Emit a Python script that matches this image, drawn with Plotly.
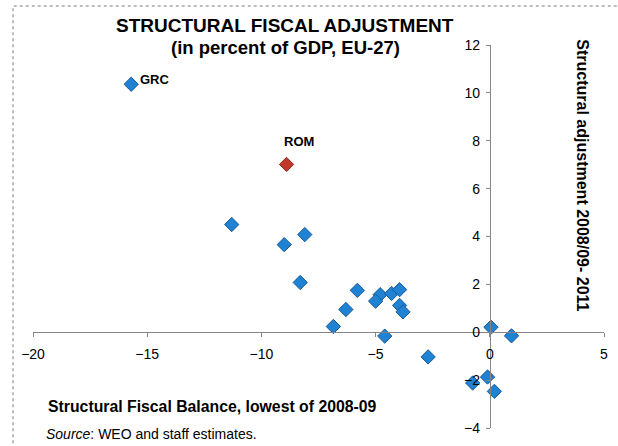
import plotly.graph_objects as go

# Structural fiscal balance (lowest of 2008-09) vs structural adjustment 2008/09-2011
balance = [-15.7, -11.3, -8.1, -9.0, -8.3, -5.8, -4.8, -4.3, -3.95, -5.0,
           -3.95, -3.8, -6.3, -6.85, -4.6, -2.7, 0.05, 0.95, -0.1, -0.75, 0.2]
adjustment = [10.36, 4.5, 4.08, 3.66, 2.08, 1.75, 1.57, 1.62, 1.78, 1.3,
              1.12, 0.85, 0.95, 0.24, -0.16, -1.03, 0.21, -0.15, -1.87, -2.12, -2.47]
rom_balance = [-8.9]
rom_adjustment = [7.01]

font = "Liberation Sans, Arial, sans-serif"

fig = go.Figure()
fig.add_trace(go.Scatter(x=balance, y=adjustment, mode='markers',
                         marker=dict(symbol='diamond', size=11, color='#1f82d2',
                                     line=dict(color='#1a5a96', width=1))))
fig.add_trace(go.Scatter(x=rom_balance, y=rom_adjustment, mode='markers',
                         marker=dict(symbol='diamond', size=11, color='#c0392b',
                                     line=dict(color='#8a2a22', width=1))))

axis_style = dict(showgrid=False, zeroline=False, showline=True, linecolor='#868686',
                  linewidth=1, ticks='outside', ticklen=4, tickcolor='#868686',
                  tickfont=dict(family=font, size=14, color='black'), anchor='free')

fig.update_layout(
    width=618, height=446,
    margin=dict(l=33, r=10, t=45, b=15),
    plot_bgcolor='white', paper_bgcolor='white',
    showlegend=False,
    font=dict(family=font, color='black'),
    xaxis=dict(range=[-20, 5], dtick=5, position=0.25, ticklabelstandoff=5, **axis_style),
    yaxis=dict(range=[-4, 12], dtick=2, position=0.8, ticklabelstandoff=3, **axis_style),
)

fig.add_annotation(xref='paper', yref='paper', x=0.442, y=1.050, xanchor='center', yanchor='middle',
                   text='<b>STRUCTURAL FISCAL ADJUSTMENT</b>', showarrow=False, font=dict(size=19))
fig.add_annotation(xref='paper', yref='paper', x=0.442, y=0.993, xanchor='center', yanchor='middle',
                   text='<b>(in percent of GDP, EU-27)</b>', showarrow=False, font=dict(size=18.5))
fig.add_annotation(x=balance[0], y=adjustment[0], text='<b>GRC</b>', showarrow=False,
                   xanchor='left', xshift=7, yshift=5, font=dict(size=13))
fig.add_annotation(x=rom_balance[0], y=rom_adjustment[0], text='<b>ROM</b>', showarrow=False,
                   xanchor='center', xshift=12, yshift=23, font=dict(size=13))
fig.add_annotation(xref='paper', yref='paper', x=0.963, y=0.66, textangle=90,
                   xanchor='center', yanchor='middle',
                   text='<b>Structural adjustment 2008/09- 2011</b>', showarrow=False,
                   font=dict(size=16))
fig.add_annotation(xref='paper', yref='paper', x=0.0226, y=0.057, xanchor='left', yanchor='middle',
                   text='<b>Structural Fiscal Balance, lowest of 2008-09</b>', showarrow=False,
                   font=dict(size=15.8))
fig.add_annotation(xref='paper', yref='paper', x=0.0192, y=-0.0148, xanchor='left', yanchor='middle',
                   text='<i>Source</i>: WEO and staff estimates.', showarrow=False,
                   font=dict(size=14))

fig.add_shape(type='rect', xref='paper', yref='paper', x0=-0.035, x1=1.05, y0=-0.2, y1=1.102,
              line=dict(color='#a6a6a6', width=1.5, dash='dot'))

fig.write_html("out.html", config={'displayModeBar': False},
               post_script="document.body.style.margin='0';")
